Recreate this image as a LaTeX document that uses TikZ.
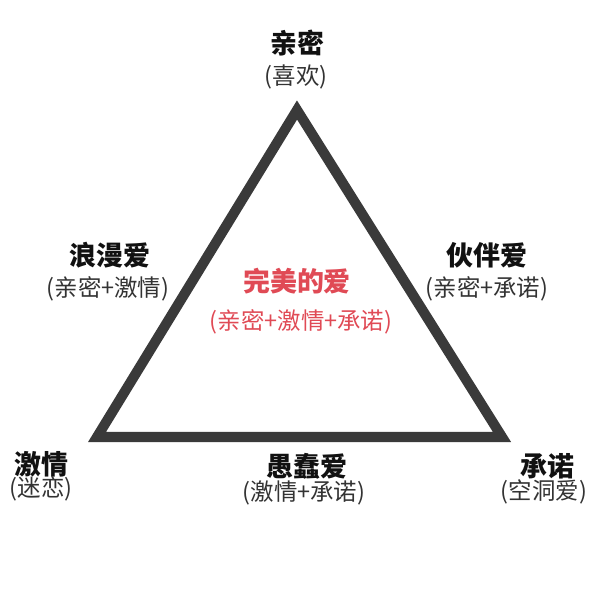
\documentclass[tikz,border=0pt]{standalone}
\usepackage{fontspec}
\setmainfont{Noto Sans CJK SC}
\usetikzlibrary{positioning}
\definecolor{TriInk}{HTML}{111111}
\definecolor{TriMuted}{HTML}{333333}
\definecolor{TriEdge}{HTML}{3A3A3A}
\definecolor{TriAccent}{HTML}{E04A55}
\tikzset{
  tri title/.style={font=\bfseries\fontsize{23}{27}\selectfont, text=TriInk, inner sep=0pt},
  tri note/.style={font=\fontsize{20}{24}\selectfont, text=TriMuted, inner sep=0pt},
  tri edge/.style={draw=TriEdge, line width=8.6pt, line join=miter},
}
\begin{document}
\begin{tikzpicture}[x=0.03cm,y=-0.03cm]
  \useasboundingbox (0,0) rectangle (600,600);

  % triangle
  \coordinate (apex) at (297,110);
  \coordinate (left) at (97,437);
  \coordinate (right) at (502,437);
  \draw[tri edge] (apex) -- (left) -- (right) -- cycle;

  % corners
  \node[tri title] (intimacy) at (297,43) {亲密};
  \node[tri note] (liking) at (296,77) {(喜欢)};
  \node[tri title] (passion) at (41,464) {激情};
  \node[tri note] (infatuation) at (41,489) {(迷恋)};
  \node[tri title] (commitment) at (547,466) {承诺};
  \node[tri note] (empty) at (544,492) {(空洞爱)};

  % sides
  \node[tri title] (romantic) at (110,255) {浪漫爱};
  \node[tri note] (romanticmix) at (108,289) {(亲密+激情)};
  \node[tri title] (companion) at (487,255) {伙伴爱};
  \node[tri note] (companionmix) at (487,289) {(亲密+承诺)};
  \node[tri title] (fatuous) at (307,466) {愚蠢爱};
  \node[tri note] (fatuousmix) at (304,493) {(激情+承诺)};

  % centre
  \node[tri title, text=TriAccent] (perfect) at (297,281) {完美的爱};
  \node[tri note, text=TriAccent] (perfectmix) at (301,322) {(亲密+激情+承诺)};
\end{tikzpicture}
\end{document}
